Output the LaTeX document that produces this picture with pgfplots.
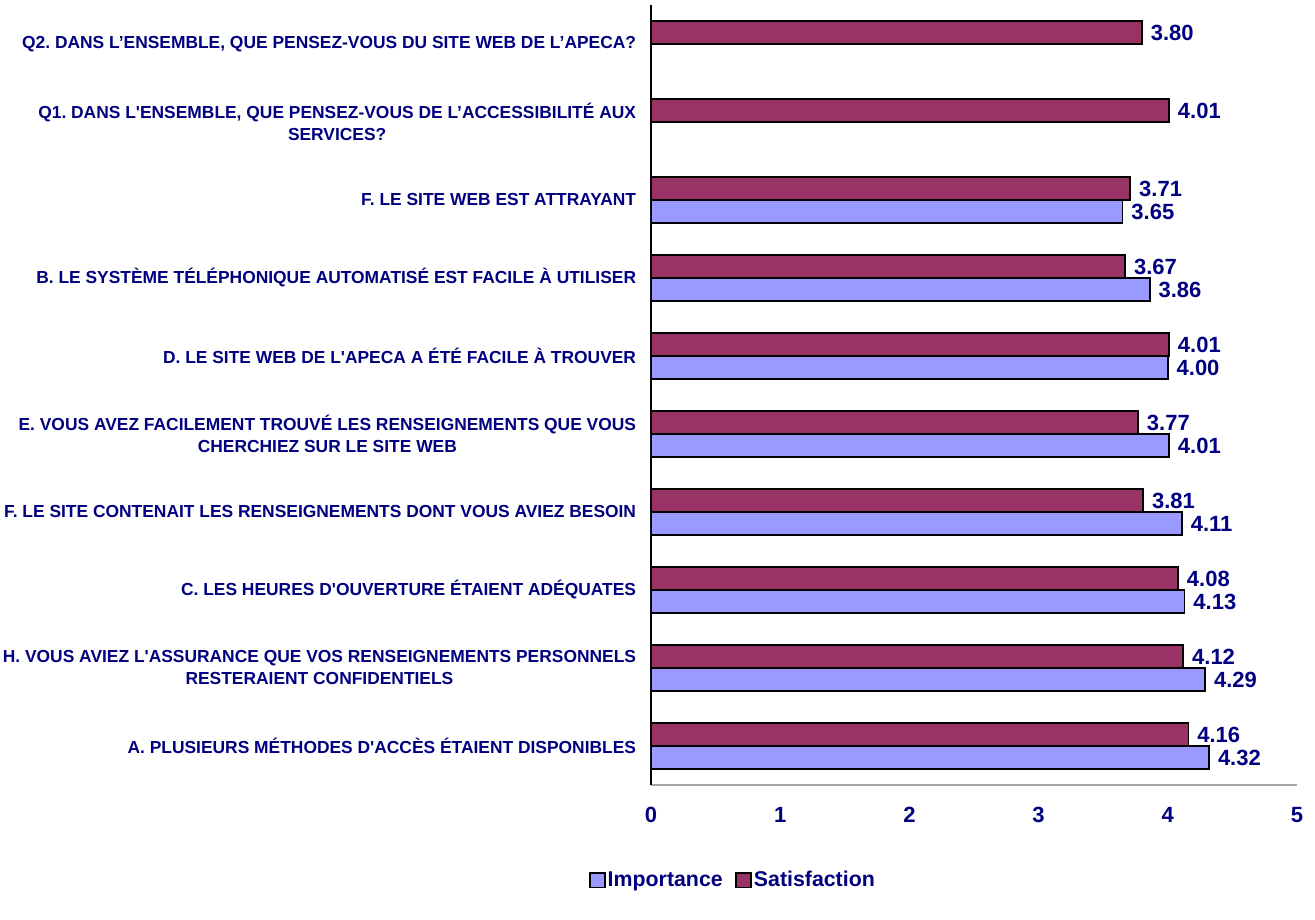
\documentclass[border=0pt]{standalone}
\usepackage{pgfplots}
\pgfplotsset{compat=1.18}
\usepackage{fontspec}
\setmainfont{Liberation Sans}
\definecolor{navy}{RGB}{0,0,128}
\definecolor{satis}{RGB}{153,51,102}
\definecolor{impo}{RGB}{153,153,255}
\newcommand{\q}{\textquotesingle}
\begin{document}
\frenchspacing
\begin{tikzpicture}
\path[use as bounding box] (-488.25pt,-101.25pt) rectangle (498pt,588.75pt);
\begin{axis}[
  at={(0,0)}, anchor=south west,
  scale only axis,
  width=484.5pt, height=585pt,
  xmin=0, xmax=5, ymin=-0.5, ymax=9.5,
  xbar, bar width=17.25pt,
  xtick={0,1,2,3,4,5},
  ytick={0,1,2,3,4,5,6,7,8,9},
  yticklabels={
    {A. PLUSIEURS MÉTHODES D\q ACCÈS ÉTAIENT DISPONIBLES},
    {H. VOUS AVIEZ L\q ASSURANCE QUE VOS RENSEIGNEMENTS PERSONNELS\\RESTERAIENT CONFIDENTIELS},
    {C. LES HEURES D\q OUVERTURE ÉTAIENT ADÉQUATES},
    {F. LE SITE CONTENAIT LES RENSEIGNEMENTS DONT VOUS AVIEZ BESOIN},
    {E. VOUS AVEZ FACILEMENT TROUVÉ LES RENSEIGNEMENTS QUE VOUS\\CHERCHIEZ SUR LE SITE WEB},
    {D. LE SITE WEB DE L\q APECA A ÉTÉ FACILE À TROUVER},
    {B. LE SYSTÈME TÉLÉPHONIQUE AUTOMATISÉ EST FACILE À UTILISER},
    {F. LE SITE WEB EST ATTRAYANT},
    {Q1. DANS L\q ENSEMBLE, QUE PENSEZ-VOUS DE L’ACCESSIBILITÉ AUX\\SERVICES?},
    {Q2. DANS L’ENSEMBLE, QUE PENSEZ-VOUS DU SITE WEB DE L’APECA?}
  },
  major tick length=0pt,
  axis y line*=left, axis x line*=bottom,
  x axis line style={-, draw=gray!70, line width=1pt},
  y axis line style={-, draw=black, line width=1pt},
  /pgf/number format/assume math mode=true,
  yticklabel style={anchor=east, align=center, inner sep=0pt, xshift=-11pt,
    font=\fontsize{13.05pt}{16.5pt}\selectfont\bfseries, text=navy},
  xticklabel style={anchor=center, inner sep=0pt, yshift=-22.5pt,
    font=\fontsize{16.5pt}{19pt}\selectfont\bfseries, text=navy},
  nodes near coords={\pgfmathprintnumber[fixed,fixed zerofill,precision=2,assume math mode=true]{\pgfplotspointmeta}},
  every node near coord/.append style={anchor=west, inner sep=0pt, xshift=6pt,
    font=\fontsize{16.5pt}{19pt}\selectfont\bfseries, text=navy},
  legend style={at={(axis description cs:0.127,-0.122)}, anchor=center,
    legend columns=2, draw=none, fill=none,
    font=\fontsize{16pt}{19pt}\selectfont\bfseries, text=navy,
    inner sep=0pt,
    /tikz/every even column/.append style={column sep=8pt},
    nodes={inner sep=1.5pt}},
  legend image code/.code={\draw[#1, line width=1.4pt] (0pt,-5.5pt) rectangle (11pt,5.5pt);},
]
\addplot[draw=black, line width=1.3pt, fill=impo, bar shift=-8.625pt] coordinates {
  (4.32,0) (4.29,1) (4.13,2) (4.11,3) (4.01,4) (4.00,5) (3.86,6) (3.65,7)
};
\addlegendentry{Importance}
\addplot[draw=black, line width=1.3pt, fill=satis, bar shift=8.625pt] coordinates {
  (4.16,0) (4.12,1) (4.08,2) (3.81,3) (3.77,4) (4.01,5) (3.67,6) (3.71,7) (4.01,8) (3.80,9)
};
\addlegendentry{Satisfaction}
\end{axis}
\end{tikzpicture}
\end{document}
